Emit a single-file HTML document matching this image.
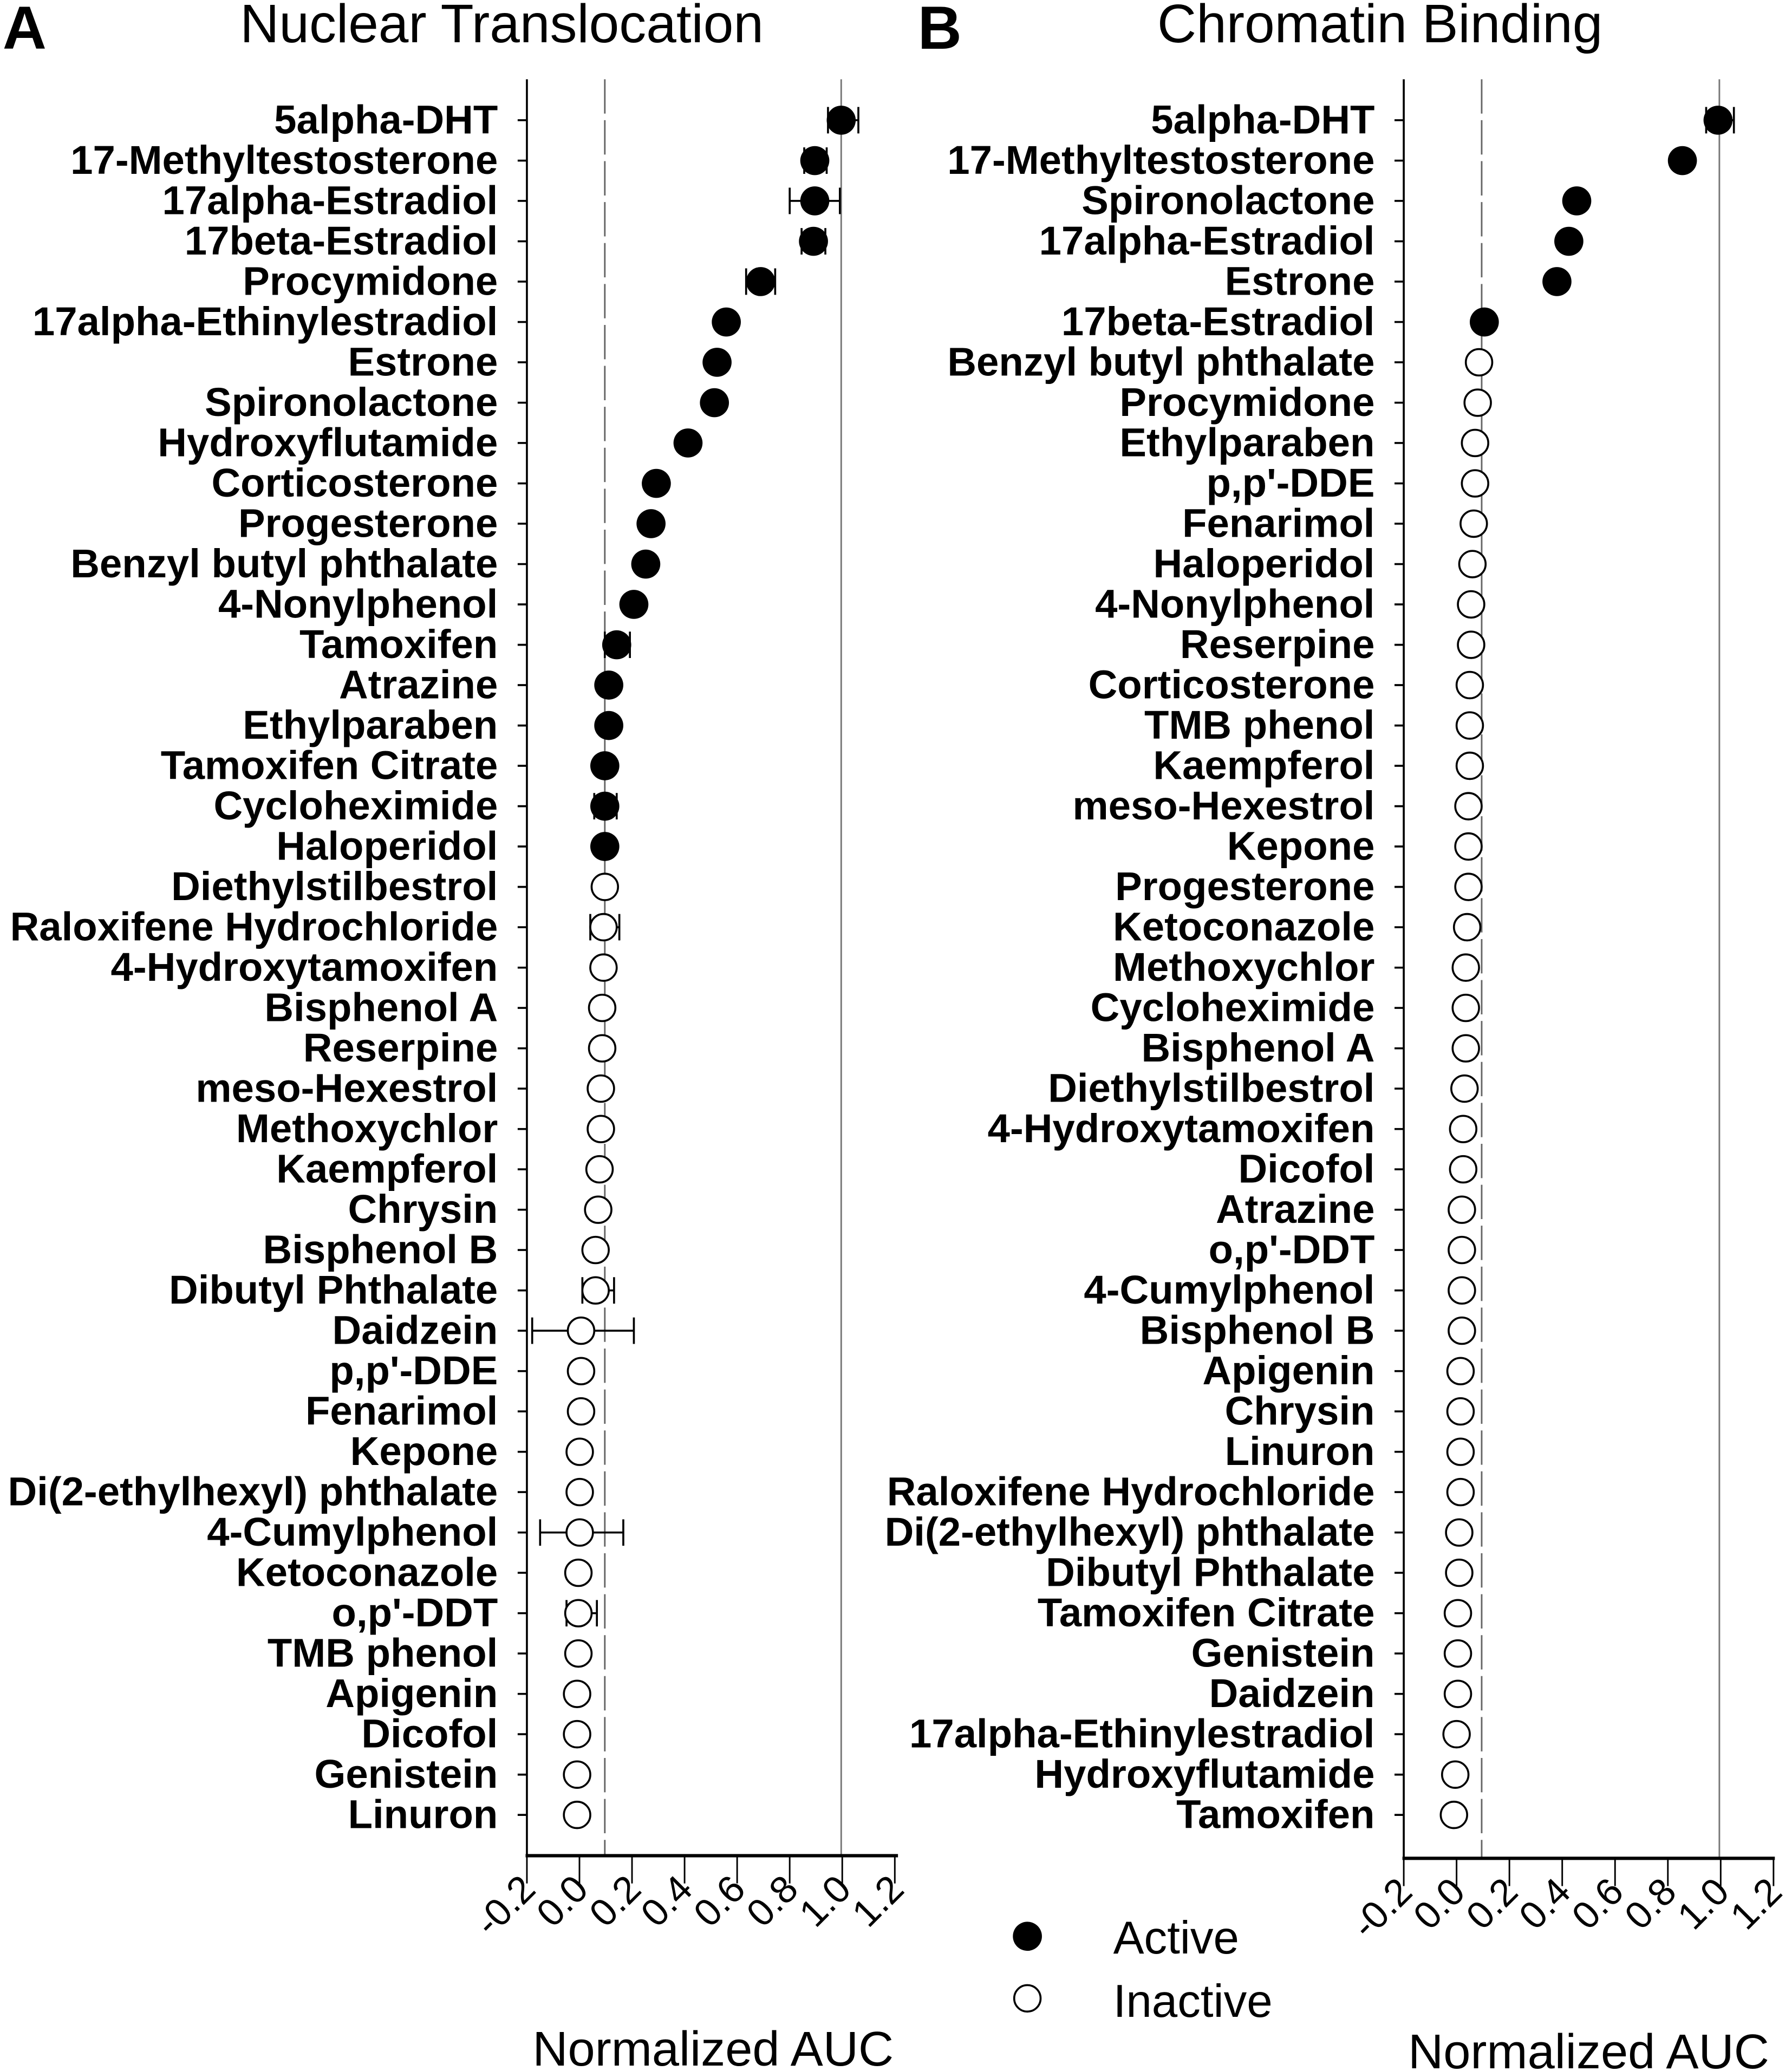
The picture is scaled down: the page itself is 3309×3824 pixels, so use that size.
<!DOCTYPE html>
<html><head><meta charset="utf-8"><style>
html,body{margin:0;padding:0;background:#fff}
svg{display:block}
text{font-family:"Liberation Sans",Arial,sans-serif}
.l{font-weight:bold;font-size:30.5px;text-anchor:end}
.t{font-size:29px;text-anchor:end}
</style></head><body>
<svg width="3309" height="3824" viewBox="0 0 1357 1568" preserveAspectRatio="none" xmlns="http://www.w3.org/2000/svg">
<rect width="1357" height="1568" fill="#fff"/>
<text x="2" y="37" font-size="46" font-weight="bold">A</text>
<text x="380" y="32" font-size="41" text-anchor="middle">Nuclear Translocation</text>
<text x="695" y="37" font-size="46" font-weight="bold">B</text>
<text x="1045" y="32" font-size="41" text-anchor="middle">Chromatin Binding</text>

<!-- Panel A axes -->
<line x1="399" y1="60" x2="399" y2="1405" stroke="#000" stroke-width="1.5"/>
<line x1="458" y1="60" x2="458" y2="1405" stroke="#666" stroke-width="1.2" stroke-dasharray="26,5"/>
<line x1="637" y1="60" x2="637" y2="1405" stroke="#777" stroke-width="1.2"/>
<line x1="398" y1="1405" x2="680" y2="1405" stroke="#000" stroke-width="2.5"/>
<g stroke="#000" stroke-width="1.2">
<line x1="399" y1="1405" x2="399" y2="1426"/><line x1="438.8" y1="1405" x2="438.8" y2="1426"/><line x1="478.6" y1="1405" x2="478.6" y2="1426"/><line x1="518.4" y1="1405" x2="518.4" y2="1426"/><line x1="558.2" y1="1405" x2="558.2" y2="1426"/><line x1="598" y1="1405" x2="598" y2="1426"/><line x1="637.8" y1="1405" x2="637.8" y2="1426"/><line x1="677.6" y1="1405" x2="677.6" y2="1426"/>
</g>
<text transform="translate(407,1432) rotate(-45)" class="t">-0.2</text>
<text transform="translate(447,1432) rotate(-45)" class="t">0.0</text>
<text transform="translate(487,1432) rotate(-45)" class="t">0.2</text>
<text transform="translate(526,1432) rotate(-45)" class="t">0.4</text>
<text transform="translate(566,1432) rotate(-45)" class="t">0.6</text>
<text transform="translate(606,1432) rotate(-45)" class="t">0.8</text>
<text transform="translate(646,1432) rotate(-45)" class="t">1.0</text>
<text transform="translate(686,1432) rotate(-45)" class="t">1.2</text>
<text x="540" y="1564" font-size="37" text-anchor="middle">Normalized AUC</text>

<!-- Panel B axes -->
<line x1="1063" y1="60" x2="1063" y2="1407" stroke="#000" stroke-width="1.5"/>
<line x1="1122" y1="60" x2="1122" y2="1407" stroke="#666" stroke-width="1.2" stroke-dasharray="26,5"/>
<line x1="1302" y1="60" x2="1302" y2="1407" stroke="#777" stroke-width="1.2"/>
<line x1="1062" y1="1407" x2="1344" y2="1407" stroke="#000" stroke-width="2.5"/>
<g stroke="#000" stroke-width="1.2">
<line x1="1063" y1="1407" x2="1063" y2="1428"/><line x1="1103" y1="1407" x2="1103" y2="1428"/><line x1="1143" y1="1407" x2="1143" y2="1428"/><line x1="1183" y1="1407" x2="1183" y2="1428"/><line x1="1223" y1="1407" x2="1223" y2="1428"/><line x1="1263" y1="1407" x2="1263" y2="1428"/><line x1="1303" y1="1407" x2="1303" y2="1428"/><line x1="1343" y1="1407" x2="1343" y2="1428"/>
</g>
<text transform="translate(1071,1434) rotate(-45)" class="t">-0.2</text>
<text transform="translate(1111,1434) rotate(-45)" class="t">0.0</text>
<text transform="translate(1151,1434) rotate(-45)" class="t">0.2</text>
<text transform="translate(1191,1434) rotate(-45)" class="t">0.4</text>
<text transform="translate(1231,1434) rotate(-45)" class="t">0.6</text>
<text transform="translate(1271,1434) rotate(-45)" class="t">0.8</text>
<text transform="translate(1311,1434) rotate(-45)" class="t">1.0</text>
<text transform="translate(1351,1434) rotate(-45)" class="t">1.2</text>
<text x="1203" y="1566" font-size="37" text-anchor="middle">Normalized AUC</text>

<!-- Legend -->
<circle cx="778" cy="1466" r="11" fill="#000"/>
<text x="843" y="1479" font-size="35">Active</text>
<circle cx="778" cy="1513" r="10" fill="#fff" stroke="#000" stroke-width="1.5"/>
<text x="843" y="1527" font-size="35">Inactive</text>

<!-- Panel A rows -->
<g stroke-width="1.5">
<g transform="translate(0,91)"><text x="377" y="10" class="l">5alpha-DHT</text><line x1="392" x2="399" stroke="#000"/><path d="M627 0H650M627 -10V10M650 -10V10" stroke="#000"/><circle cx="637" r="11"/></g>
<g transform="translate(0,121.6)"><text x="377" y="10" class="l">17-Methyltestosterone</text><line x1="392" x2="399" stroke="#000"/><path d="M609 0H626M609 -10V10M626 -10V10" stroke="#000"/><circle cx="617" r="11"/></g>
<g transform="translate(0,152.1)"><text x="377" y="10" class="l">17alpha-Estradiol</text><line x1="392" x2="399" stroke="#000"/><path d="M598 0H636M598 -10V10M636 -10V10" stroke="#000"/><circle cx="617" r="11"/></g>
<g transform="translate(0,182.7)"><text x="377" y="10" class="l">17beta-Estradiol</text><line x1="392" x2="399" stroke="#000"/><path d="M607 0H625M607 -10V10M625 -10V10" stroke="#000"/><circle cx="616" r="11"/></g>
<g transform="translate(0,213.2)"><text x="377" y="10" class="l">Procymidone</text><line x1="392" x2="399" stroke="#000"/><path d="M565 0H587M565 -10V10M587 -10V10" stroke="#000"/><circle cx="576" r="11"/></g>
<g transform="translate(0,243.8)"><text x="377" y="10" class="l">17alpha-Ethinylestradiol</text><line x1="392" x2="399" stroke="#000"/><circle cx="550" r="11"/></g>
<g transform="translate(0,274.3)"><text x="377" y="10" class="l">Estrone</text><line x1="392" x2="399" stroke="#000"/><circle cx="543" r="11"/></g>
<g transform="translate(0,304.9)"><text x="377" y="10" class="l">Spironolactone</text><line x1="392" x2="399" stroke="#000"/><circle cx="541" r="11"/></g>
<g transform="translate(0,335.4)"><text x="377" y="10" class="l">Hydroxyflutamide</text><line x1="392" x2="399" stroke="#000"/><circle cx="521" r="11"/></g>
<g transform="translate(0,366)"><text x="377" y="10" class="l">Corticosterone</text><line x1="392" x2="399" stroke="#000"/><circle cx="497" r="11"/></g>
<g transform="translate(0,396.5)"><text x="377" y="10" class="l">Progesterone</text><line x1="392" x2="399" stroke="#000"/><circle cx="493" r="11"/></g>
<g transform="translate(0,427.1)"><text x="377" y="10" class="l">Benzyl butyl phthalate</text><line x1="392" x2="399" stroke="#000"/><circle cx="489" r="11"/></g>
<g transform="translate(0,457.6)"><text x="377" y="10" class="l">4-Nonylphenol</text><line x1="392" x2="399" stroke="#000"/><circle cx="480" r="11"/></g>
<g transform="translate(0,488.2)"><text x="377" y="10" class="l">Tamoxifen</text><line x1="392" x2="399" stroke="#000"/><path d="M458 0H477M458 -10V10M477 -10V10" stroke="#000"/><circle cx="467" r="11"/></g>
<g transform="translate(0,518.7)"><text x="377" y="10" class="l">Atrazine</text><line x1="392" x2="399" stroke="#000"/><circle cx="461" r="11"/></g>
<g transform="translate(0,549.3)"><text x="377" y="10" class="l">Ethylparaben</text><line x1="392" x2="399" stroke="#000"/><circle cx="461" r="11"/></g>
<g transform="translate(0,579.8)"><text x="377" y="10" class="l">Tamoxifen Citrate</text><line x1="392" x2="399" stroke="#000"/><circle cx="458" r="11"/></g>
<g transform="translate(0,610.4)"><text x="377" y="10" class="l">Cycloheximide</text><line x1="392" x2="399" stroke="#000"/><path d="M450 0H467M450 -10V10M467 -10V10" stroke="#000"/><circle cx="458" r="11"/></g>
<g transform="translate(0,640.9)"><text x="377" y="10" class="l">Haloperidol</text><line x1="392" x2="399" stroke="#000"/><circle cx="458" r="11"/></g>
</g>
<g stroke-width="1.5" fill="#fff" stroke="#000">
<g transform="translate(0,671.5)"><text x="377" y="10" class="l" fill="#000" stroke="none">Diethylstilbestrol</text><line x1="392" x2="399"/><circle cx="458" r="10"/></g>
<g transform="translate(0,702)"><text x="377" y="10" class="l" fill="#000" stroke="none">Raloxifene Hydrochloride</text><line x1="392" x2="399"/><path d="M447 0H469M447 -10V10M469 -10V10"/><circle cx="457" r="10"/></g>
<g transform="translate(0,732.6)"><text x="377" y="10" class="l" fill="#000" stroke="none">4-Hydroxytamoxifen</text><line x1="392" x2="399"/><circle cx="457" r="10"/></g>
<g transform="translate(0,763.1)"><text x="377" y="10" class="l" fill="#000" stroke="none">Bisphenol A</text><line x1="392" x2="399"/><circle cx="456" r="10"/></g>
<g transform="translate(0,793.7)"><text x="377" y="10" class="l" fill="#000" stroke="none">Reserpine</text><line x1="392" x2="399"/><circle cx="456" r="10"/></g>
<g transform="translate(0,824.2)"><text x="377" y="10" class="l" fill="#000" stroke="none">meso-Hexestrol</text><line x1="392" x2="399"/><circle cx="455" r="10"/></g>
<g transform="translate(0,854.8)"><text x="377" y="10" class="l" fill="#000" stroke="none">Methoxychlor</text><line x1="392" x2="399"/><circle cx="455" r="10"/></g>
<g transform="translate(0,885.3)"><text x="377" y="10" class="l" fill="#000" stroke="none">Kaempferol</text><line x1="392" x2="399"/><circle cx="454" r="10"/></g>
<g transform="translate(0,915.9)"><text x="377" y="10" class="l" fill="#000" stroke="none">Chrysin</text><line x1="392" x2="399"/><circle cx="453" r="10"/></g>
<g transform="translate(0,946.4)"><text x="377" y="10" class="l" fill="#000" stroke="none">Bisphenol B</text><line x1="392" x2="399"/><circle cx="451" r="10"/></g>
<g transform="translate(0,977)"><text x="377" y="10" class="l" fill="#000" stroke="none">Dibutyl Phthalate</text><line x1="392" x2="399"/><path d="M441 0H465M441 -10V10M465 -10V10"/><circle cx="451" r="10"/></g>
<g transform="translate(0,1007.5)"><text x="377" y="10" class="l" fill="#000" stroke="none">Daidzein</text><line x1="392" x2="399"/><path d="M403 0H480M403 -10V10M480 -10V10"/><circle cx="440" r="10"/></g>
<g transform="translate(0,1038.1)"><text x="377" y="10" class="l" fill="#000" stroke="none">p,p'-DDE</text><line x1="392" x2="399"/><circle cx="440" r="10"/></g>
<g transform="translate(0,1068.6)"><text x="377" y="10" class="l" fill="#000" stroke="none">Fenarimol</text><line x1="392" x2="399"/><circle cx="440" r="10"/></g>
<g transform="translate(0,1099.2)"><text x="377" y="10" class="l" fill="#000" stroke="none">Kepone</text><line x1="392" x2="399"/><circle cx="439" r="10"/></g>
<g transform="translate(0,1129.7)"><text x="377" y="10" class="l" fill="#000" stroke="none">Di(2-ethylhexyl) phthalate</text><line x1="392" x2="399"/><circle cx="439" r="10"/></g>
<g transform="translate(0,1160.3)"><text x="377" y="10" class="l" fill="#000" stroke="none">4-Cumylphenol</text><line x1="392" x2="399"/><path d="M409 0H472M409 -10V10M472 -10V10"/><circle cx="439" r="10"/></g>
<g transform="translate(0,1190.8)"><text x="377" y="10" class="l" fill="#000" stroke="none">Ketoconazole</text><line x1="392" x2="399"/><circle cx="438" r="10"/></g>
<g transform="translate(0,1221.4)"><text x="377" y="10" class="l" fill="#000" stroke="none">o,p'-DDT</text><line x1="392" x2="399"/><path d="M429 0H452M429 -10V10M452 -10V10"/><circle cx="438" r="10"/></g>
<g transform="translate(0,1251.9)"><text x="377" y="10" class="l" fill="#000" stroke="none">TMB phenol</text><line x1="392" x2="399"/><circle cx="438" r="10"/></g>
<g transform="translate(0,1282.5)"><text x="377" y="10" class="l" fill="#000" stroke="none">Apigenin</text><line x1="392" x2="399"/><circle cx="437" r="10"/></g>
<g transform="translate(0,1313)"><text x="377" y="10" class="l" fill="#000" stroke="none">Dicofol</text><line x1="392" x2="399"/><circle cx="437" r="10"/></g>
<g transform="translate(0,1343.6)"><text x="377" y="10" class="l" fill="#000" stroke="none">Genistein</text><line x1="392" x2="399"/><circle cx="437" r="10"/></g>
<g transform="translate(0,1374.1)"><text x="377" y="10" class="l" fill="#000" stroke="none">Linuron</text><line x1="392" x2="399"/><circle cx="437" r="10"/></g>
</g>

<!-- Panel B rows -->
<g stroke-width="1.5">
<g transform="translate(0,91)"><text x="1041" y="10" class="l">5alpha-DHT</text><line x1="1056" x2="1063" stroke="#000"/><path d="M1292 0H1313M1292 -10V10M1313 -10V10" stroke="#000"/><circle cx="1301" r="11"/></g>
<g transform="translate(0,121.6)"><text x="1041" y="10" class="l">17-Methyltestosterone</text><line x1="1056" x2="1063" stroke="#000"/><circle cx="1274" r="11"/></g>
<g transform="translate(0,152.1)"><text x="1041" y="10" class="l">Spironolactone</text><line x1="1056" x2="1063" stroke="#000"/><circle cx="1194" r="11"/></g>
<g transform="translate(0,182.7)"><text x="1041" y="10" class="l">17alpha-Estradiol</text><line x1="1056" x2="1063" stroke="#000"/><circle cx="1188" r="11"/></g>
<g transform="translate(0,213.2)"><text x="1041" y="10" class="l">Estrone</text><line x1="1056" x2="1063" stroke="#000"/><circle cx="1179" r="11"/></g>
<g transform="translate(0,243.8)"><text x="1041" y="10" class="l">17beta-Estradiol</text><line x1="1056" x2="1063" stroke="#000"/><circle cx="1124" r="11"/></g>
</g>
<g stroke-width="1.5" fill="#fff" stroke="#000">
<g transform="translate(0,274.3)"><text x="1041" y="10" class="l" fill="#000" stroke="none">Benzyl butyl phthalate</text><line x1="1056" x2="1063"/><circle cx="1120" r="10"/></g>
<g transform="translate(0,304.9)"><text x="1041" y="10" class="l" fill="#000" stroke="none">Procymidone</text><line x1="1056" x2="1063"/><circle cx="1119" r="10"/></g>
<g transform="translate(0,335.4)"><text x="1041" y="10" class="l" fill="#000" stroke="none">Ethylparaben</text><line x1="1056" x2="1063"/><circle cx="1117" r="10"/></g>
<g transform="translate(0,366)"><text x="1041" y="10" class="l" fill="#000" stroke="none">p,p'-DDE</text><line x1="1056" x2="1063"/><circle cx="1117" r="10"/></g>
<g transform="translate(0,396.5)"><text x="1041" y="10" class="l" fill="#000" stroke="none">Fenarimol</text><line x1="1056" x2="1063"/><circle cx="1116" r="10"/></g>
<g transform="translate(0,427.1)"><text x="1041" y="10" class="l" fill="#000" stroke="none">Haloperidol</text><line x1="1056" x2="1063"/><circle cx="1115" r="10"/></g>
<g transform="translate(0,457.6)"><text x="1041" y="10" class="l" fill="#000" stroke="none">4-Nonylphenol</text><line x1="1056" x2="1063"/><circle cx="1114" r="10"/></g>
<g transform="translate(0,488.2)"><text x="1041" y="10" class="l" fill="#000" stroke="none">Reserpine</text><line x1="1056" x2="1063"/><circle cx="1114" r="10"/></g>
<g transform="translate(0,518.7)"><text x="1041" y="10" class="l" fill="#000" stroke="none">Corticosterone</text><line x1="1056" x2="1063"/><circle cx="1113" r="10"/></g>
<g transform="translate(0,549.3)"><text x="1041" y="10" class="l" fill="#000" stroke="none">TMB phenol</text><line x1="1056" x2="1063"/><circle cx="1113" r="10"/></g>
<g transform="translate(0,579.8)"><text x="1041" y="10" class="l" fill="#000" stroke="none">Kaempferol</text><line x1="1056" x2="1063"/><circle cx="1113" r="10"/></g>
<g transform="translate(0,610.4)"><text x="1041" y="10" class="l" fill="#000" stroke="none">meso-Hexestrol</text><line x1="1056" x2="1063"/><circle cx="1112" r="10"/></g>
<g transform="translate(0,640.9)"><text x="1041" y="10" class="l" fill="#000" stroke="none">Kepone</text><line x1="1056" x2="1063"/><circle cx="1112" r="10"/></g>
<g transform="translate(0,671.5)"><text x="1041" y="10" class="l" fill="#000" stroke="none">Progesterone</text><line x1="1056" x2="1063"/><circle cx="1112" r="10"/></g>
<g transform="translate(0,702)"><text x="1041" y="10" class="l" fill="#000" stroke="none">Ketoconazole</text><line x1="1056" x2="1063"/><circle cx="1111" r="10"/></g>
<g transform="translate(0,732.6)"><text x="1041" y="10" class="l" fill="#000" stroke="none">Methoxychlor</text><line x1="1056" x2="1063"/><circle cx="1110" r="10"/></g>
<g transform="translate(0,763.1)"><text x="1041" y="10" class="l" fill="#000" stroke="none">Cycloheximide</text><line x1="1056" x2="1063"/><circle cx="1110" r="10"/></g>
<g transform="translate(0,793.7)"><text x="1041" y="10" class="l" fill="#000" stroke="none">Bisphenol A</text><line x1="1056" x2="1063"/><circle cx="1110" r="10"/></g>
<g transform="translate(0,824.2)"><text x="1041" y="10" class="l" fill="#000" stroke="none">Diethylstilbestrol</text><line x1="1056" x2="1063"/><circle cx="1109" r="10"/></g>
<g transform="translate(0,854.8)"><text x="1041" y="10" class="l" fill="#000" stroke="none">4-Hydroxytamoxifen</text><line x1="1056" x2="1063"/><circle cx="1108" r="10"/></g>
<g transform="translate(0,885.3)"><text x="1041" y="10" class="l" fill="#000" stroke="none">Dicofol</text><line x1="1056" x2="1063"/><circle cx="1108" r="10"/></g>
<g transform="translate(0,915.9)"><text x="1041" y="10" class="l" fill="#000" stroke="none">Atrazine</text><line x1="1056" x2="1063"/><circle cx="1107" r="10"/></g>
<g transform="translate(0,946.4)"><text x="1041" y="10" class="l" fill="#000" stroke="none">o,p'-DDT</text><line x1="1056" x2="1063"/><circle cx="1107" r="10"/></g>
<g transform="translate(0,977)"><text x="1041" y="10" class="l" fill="#000" stroke="none">4-Cumylphenol</text><line x1="1056" x2="1063"/><circle cx="1107" r="10"/></g>
<g transform="translate(0,1007.5)"><text x="1041" y="10" class="l" fill="#000" stroke="none">Bisphenol B</text><line x1="1056" x2="1063"/><circle cx="1107" r="10"/></g>
<g transform="translate(0,1038.1)"><text x="1041" y="10" class="l" fill="#000" stroke="none">Apigenin</text><line x1="1056" x2="1063"/><circle cx="1106" r="10"/></g>
<g transform="translate(0,1068.6)"><text x="1041" y="10" class="l" fill="#000" stroke="none">Chrysin</text><line x1="1056" x2="1063"/><circle cx="1106" r="10"/></g>
<g transform="translate(0,1099.2)"><text x="1041" y="10" class="l" fill="#000" stroke="none">Linuron</text><line x1="1056" x2="1063"/><circle cx="1106" r="10"/></g>
<g transform="translate(0,1129.7)"><text x="1041" y="10" class="l" fill="#000" stroke="none">Raloxifene Hydrochloride</text><line x1="1056" x2="1063"/><circle cx="1106" r="10"/></g>
<g transform="translate(0,1160.3)"><text x="1041" y="10" class="l" fill="#000" stroke="none">Di(2-ethylhexyl) phthalate</text><line x1="1056" x2="1063"/><circle cx="1105" r="10"/></g>
<g transform="translate(0,1190.8)"><text x="1041" y="10" class="l" fill="#000" stroke="none">Dibutyl Phthalate</text><line x1="1056" x2="1063"/><circle cx="1105" r="10"/></g>
<g transform="translate(0,1221.4)"><text x="1041" y="10" class="l" fill="#000" stroke="none">Tamoxifen Citrate</text><line x1="1056" x2="1063"/><circle cx="1104" r="10"/></g>
<g transform="translate(0,1251.9)"><text x="1041" y="10" class="l" fill="#000" stroke="none">Genistein</text><line x1="1056" x2="1063"/><circle cx="1104" r="10"/></g>
<g transform="translate(0,1282.5)"><text x="1041" y="10" class="l" fill="#000" stroke="none">Daidzein</text><line x1="1056" x2="1063"/><circle cx="1104" r="10"/></g>
<g transform="translate(0,1313)"><text x="1041" y="10" class="l" fill="#000" stroke="none">17alpha-Ethinylestradiol</text><line x1="1056" x2="1063"/><circle cx="1103" r="10"/></g>
<g transform="translate(0,1343.6)"><text x="1041" y="10" class="l" fill="#000" stroke="none">Hydroxyflutamide</text><line x1="1056" x2="1063"/><circle cx="1102" r="10"/></g>
<g transform="translate(0,1374.1)"><text x="1041" y="10" class="l" fill="#000" stroke="none">Tamoxifen</text><line x1="1056" x2="1063"/><circle cx="1101" r="10"/></g>
</g>
</svg>
</body></html>
